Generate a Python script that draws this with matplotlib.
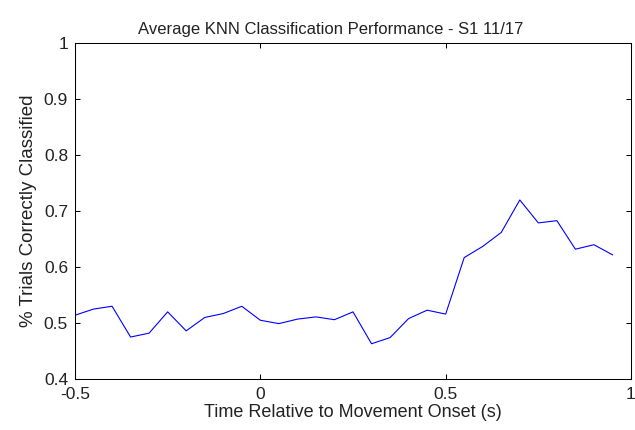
import matplotlib
matplotlib.use('Agg')
import matplotlib.pyplot as plt
import numpy as np

plt.rcParams['font.family'] = ['Liberation Sans', 'DejaVu Sans']

# time bins (s) and mean classification accuracy
time_s = [-0.50, -0.45, -0.40, -0.35, -0.30, -0.25, -0.20, -0.15, -0.10, -0.05,
          0.00, 0.05, 0.10, 0.15, 0.20, 0.25, 0.30, 0.35, 0.40, 0.45,
          0.50, 0.55, 0.60, 0.65, 0.70, 0.75, 0.80, 0.85, 0.90, 0.95]
accuracy = [0.514, 0.525, 0.530, 0.475, 0.482, 0.520, 0.486, 0.510, 0.517, 0.530,
            0.505, 0.499, 0.507, 0.511, 0.506, 0.520, 0.463, 0.474, 0.508, 0.523,
            0.516, 0.617, 0.637, 0.662, 0.720, 0.679, 0.683, 0.632, 0.640, 0.622]

xticks = [-0.5, 0, 0.5, 1]
xtick_labels = ['-0.5', '0', '0.5', '1']
yticks = [0.4, 0.5, 0.6, 0.7, 0.8, 0.9, 1.0]
ytick_labels = ['0.4', '0.5', '0.6', '0.7', '0.8', '0.9', '1']

fig = plt.figure(figsize=(6.35, 4.3), dpi=100)
ax = fig.add_axes([0.1181, 0.1186, 0.8756, 0.7807])

ax.plot(time_s, accuracy, color='#0000ff', linewidth=0.8)

ax.set_xlim(-0.5, 1)
ax.set_ylim(0.4, 1)
ax.set_xticks(xticks)
ax.set_xticklabels(xtick_labels)
ax.set_yticks(yticks)
ax.set_yticklabels(ytick_labels)
ax.tick_params(direction='in', top=True, right=True, length=3.6, width=0.75,
               labelsize=12.5, labelcolor='#222222')
ax.tick_params(axis='x', pad=6)
ax.tick_params(axis='y', pad=5)
for s in ax.spines.values():
    s.set_linewidth(0.75)

# title sits a little left of the axes centre in the original
ax.set_title('Average KNN Classification Performance - S1 11/17', fontsize=12,
             x=0.459, pad=7, color='#222222')
ax.set_xlabel('Time Relative to Movement Onset (s)', fontsize=13, labelpad=1,
              color='#222222')
ax.set_ylabel('% Trials Correctly Classified', fontsize=13.5, labelpad=5,
              color='#222222')

fig.savefig('out.png', dpi=100)
